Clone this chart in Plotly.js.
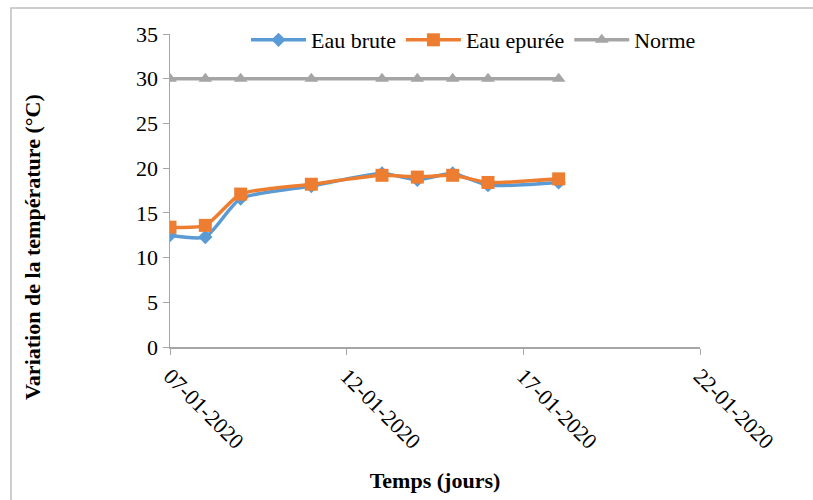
<!DOCTYPE html>
<html>
<head>
<meta charset="utf-8">
<script src="https://cdn.plot.ly/plotly-3.0.1.min.js"></script>
<style>html,body{margin:0;padding:0;background:#fff;}#chart{width:813px;height:500px;}</style>
</head>
<body>
<div id="chart"></div>
<script>
const dates = ['2020-01-07','2020-01-08','2020-01-09','2020-01-11','2020-01-13','2020-01-14','2020-01-15','2020-01-16','2020-01-18'];
const eauBrute = [12.5, 12.3, 16.6, 18.0, 19.4, 18.7, 19.4, 18.1, 18.4];
const eauEpuree = [13.4, 13.6, 17.1, 18.2, 19.2, 19.0, 19.2, 18.4, 18.8];
const norme = [30, 30, 30, 30, 30, 30, 30, 30, 30];
const tickVals = ['2020-01-07','2020-01-12','2020-01-17','2020-01-22'];
const tickText = ['07-01-2020','12-01-2020','17-01-2020','22-01-2020'];

const font = 'Times, Tinos, serif';
const boldFont = 'Liberation Serif, Times, serif';
const traces = [
  {x: dates, y: eauBrute, name: 'Eau brute', mode: 'lines+markers', type: 'scatter',
   line: {color: '#5B9BD5', width: 3.5, shape: 'spline', smoothing: 0.6},
   marker: {symbol: 'diamond', size: 11, color: '#5B9BD5'}},
  {x: dates, y: eauEpuree, name: 'Eau epurée', mode: 'lines+markers', type: 'scatter',
   line: {color: '#ED7D31', width: 3.5, shape: 'spline', smoothing: 0.6},
   marker: {symbol: 'square', size: 13, color: '#ED7D31'}},
  {x: dates, y: norme, name: 'Norme', mode: 'lines+markers', type: 'scatter',
   line: {color: '#A5A5A5', width: 3.5},
   marker: {symbol: 'triangle-up', size: 12, color: '#A5A5A5'}}
];
const layout = {
  width: 813, height: 500,
  margin: {l: 170, r: 113, t: 34, b: 153, autoexpand: false},
  paper_bgcolor: '#fff', plot_bgcolor: '#fff',
  font: {family: font, size: 21, color: '#000'},
  showlegend: true,
  legend: {orientation: 'h', x: (246-170)/530, y: (347-40)/313, xanchor: 'left', yanchor: 'middle',
           font: {family: font, size: 22, color: '#000'}, itemwidth: 55, bgcolor: 'rgba(0,0,0,0)'},
  xaxis: {type: 'date', range: ['2020-01-07','2020-01-22'], tickmode: 'array', tickvals: tickVals, ticktext: tickText,
          tickangle: 45, ticks: 'outside', ticklen: 6, tickcolor: '#A6A6A6', showline: true, linecolor: '#A6A6A6', linewidth: 1.5,
          showgrid: false, zeroline: false, automargin: false, tickfont: {family: font, size: 22, color: '#000'},
          title: {text: 'Temps (jours)', font: {family: boldFont, size: 22, color: '#000', weight: 'bold'}, standoff: 20}},
  yaxis: {range: [0, 35], tickvals: [0,5,10,15,20,25,30,35], ticks: 'outside', ticklen: 6, tickcolor: '#A6A6A6',
          showline: true, linecolor: '#A6A6A6', linewidth: 1.5, showgrid: false, zeroline: false, automargin: false,
          tickfont: {family: font, size: 22, color: '#000'}},
  annotations: [{text: 'Variation de la température (°C)', xref: 'paper', yref: 'paper', x: (32-170)/530, y: (347-247)/313,
                 textangle: -90, showarrow: false, xanchor: 'center', yanchor: 'middle',
                 font: {family: boldFont, size: 22, color: '#000', weight: 'bold'}}],
  shapes: [{type: 'rect', xref: 'paper', yref: 'paper', x0: (11-170)/530, x1: 1.4, y0: -1, y1: (347-8)/313,
            line: {color: '#BFBFBF', width: 1.5}, fillcolor: 'rgba(0,0,0,0)', layer: 'below'}]
};
Plotly.newPlot('chart', traces, layout, {displayModeBar: false, staticPlot: true});
</script>
</body>
</html>
